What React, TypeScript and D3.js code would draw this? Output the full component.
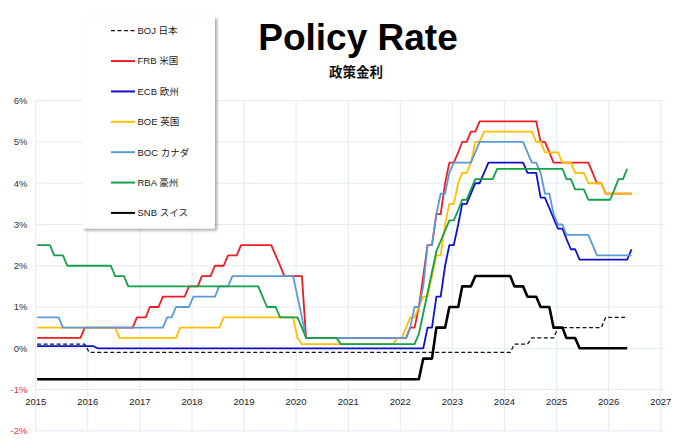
import * as d3 from "d3";

// policy rate step changes: [month, new rate %]
const BOJ: [string, number][] = [
  ["2015-01", 0.1], ["2016-01", -0.1], ["2024-03", 0.1], ["2024-07", 0.25],
  ["2025-01", 0.5], ["2025-12", 0.75],
];
const FRB: [string, number][] = [
  ["2015-01", 0.25], ["2015-12", 0.5], ["2016-12", 0.75], ["2017-03", 1.0],
  ["2017-06", 1.25], ["2017-12", 1.5], ["2018-03", 1.75], ["2018-06", 2.0],
  ["2018-09", 2.25], ["2018-12", 2.5], ["2019-08", 2.25], ["2019-09", 2.0],
  ["2019-10", 1.75], ["2020-03", 0.25], ["2022-03", 0.5], ["2022-05", 1.0],
  ["2022-06", 1.75], ["2022-07", 2.5], ["2022-09", 3.25], ["2022-11", 4.0],
  ["2022-12", 4.5], ["2023-02", 4.75], ["2023-03", 5.0], ["2023-05", 5.25],
  ["2023-07", 5.5], ["2024-09", 5.0], ["2024-11", 4.75], ["2024-12", 4.5],
  ["2025-09", 4.25], ["2025-10", 4.0], ["2025-12", 3.75],
];
const ECB: [string, number][] = [
  ["2015-01", 0.05], ["2016-03", 0.0], ["2022-07", 0.5], ["2022-09", 1.25],
  ["2022-11", 2.0], ["2022-12", 2.5], ["2023-02", 3.0], ["2023-03", 3.5],
  ["2023-05", 3.75], ["2023-06", 4.0], ["2023-08", 4.25], ["2023-09", 4.5],
  ["2024-06", 4.25], ["2024-09", 3.65], ["2024-11", 3.4], ["2024-12", 3.15],
  ["2025-01", 2.9], ["2025-03", 2.65], ["2025-04", 2.4], ["2025-06", 2.15],
  ["2026-06", 2.4],
];
const BOE: [string, number][] = [
  ["2015-01", 0.5], ["2016-08", 0.25], ["2017-10", 0.5], ["2018-08", 0.75],
  ["2020-01", 0.25], ["2020-02", 0.1], ["2021-12", 0.25], ["2022-02", 0.5],
  ["2022-03", 0.75], ["2022-05", 1.0], ["2022-06", 1.25], ["2022-08", 1.75],
  ["2022-09", 2.25], ["2022-11", 3.0], ["2022-12", 3.5], ["2023-02", 4.0],
  ["2023-03", 4.25], ["2023-05", 4.5], ["2023-06", 5.0], ["2023-08", 5.25],
  ["2024-08", 5.0], ["2024-10", 4.75], ["2025-02", 4.5], ["2025-05", 4.25],
  ["2025-08", 4.0], ["2025-12", 3.75],
];
const BOC: [string, number][] = [
  ["2015-01", 0.75], ["2015-07", 0.5], ["2017-07", 0.75], ["2017-09", 1.0],
  ["2018-01", 1.25], ["2018-07", 1.5], ["2018-10", 1.75], ["2020-01", 1.25],
  ["2020-02", 0.75], ["2020-03", 0.25], ["2022-03", 0.5], ["2022-04", 1.0],
  ["2022-06", 1.5], ["2022-07", 2.5], ["2022-09", 3.25], ["2022-10", 3.75],
  ["2022-12", 4.25], ["2023-01", 4.5], ["2023-06", 4.75], ["2023-07", 5.0],
  ["2024-06", 4.75], ["2024-07", 4.5], ["2024-09", 4.25], ["2024-10", 3.75],
  ["2024-12", 3.25], ["2025-01", 3.0], ["2025-03", 2.75], ["2025-09", 2.5],
  ["2025-10", 2.25],
];
const RBA: [string, number][] = [
  ["2015-01", 2.5], ["2015-05", 2.25], ["2015-08", 2.0], ["2016-07", 1.75],
  ["2016-10", 1.5], ["2019-05", 1.25], ["2019-06", 1.0], ["2019-09", 0.75],
  ["2020-02", 0.5], ["2020-03", 0.25], ["2020-11", 0.1], ["2022-05", 0.35],
  ["2022-06", 0.85], ["2022-07", 1.35], ["2022-08", 1.85], ["2022-09", 2.35],
  ["2022-10", 2.6], ["2022-11", 2.85], ["2022-12", 3.1], ["2023-02", 3.35],
  ["2023-03", 3.6], ["2023-05", 3.85], ["2023-06", 4.1], ["2023-11", 4.35],
  ["2025-03", 4.1], ["2025-05", 3.85], ["2025-08", 3.6], ["2026-02", 3.85],
  ["2026-03", 4.1], ["2026-05", 4.35],
];
const SNB: [string, number][] = [
  ["2015-01", -0.75], ["2022-06", -0.25], ["2022-09", 0.5], ["2022-12", 1.0],
  ["2023-03", 1.5], ["2023-06", 1.75], ["2024-03", 1.5], ["2024-06", 1.25],
  ["2024-09", 1.0], ["2024-12", 0.5], ["2025-03", 0.25], ["2025-06", 0.0],
];

const SERIES = [
  { label: "BOJ 日本", steps: BOJ, end: "2026-05", color: "#111", width: 1.3, dash: "4,2.5" },
  { label: "FRB 米国", steps: FRB, end: "2026-06", color: "#ee1c24", width: 1.8 },
  { label: "ECB 欧州", steps: ECB, end: "2026-06", color: "#1010c8", width: 1.8 },
  { label: "BOE 英国", steps: BOE, end: "2026-06", color: "#ffbf00", width: 1.8 },
  { label: "BOC カナダ", steps: BOC, end: "2026-06", color: "#5b9bd5", width: 1.8 },
  { label: "RBA 豪州", steps: RBA, end: "2026-05", color: "#12a04a", width: 1.8 },
  { label: "SNB スイス", steps: SNB, end: "2026-05", color: "#000", width: 2.6 },
];

const YEARS = d3.range(2015, 2028);
const Y_TICKS = [6, 5, 4, 3, 2, 1, 0, -1, -2];

const FONT = "'Liberation Sans', Arial, 'Noto Sans CJK JP', sans-serif";

const monthIndex = (s: string) => {
  const [y, m] = s.split("-").map(Number);
  return (y - 2015) * 12 + m - 1;
};

// vertices of the monthly step line
function vertices(steps: [string, number][], end: string) {
  const pts: [number, number][] = [[monthIndex(steps[0][0]), steps[0][1]]];
  for (let i = 1; i < steps.length; i++) {
    const m = monthIndex(steps[i][0]);
    const last = pts[pts.length - 1];
    if (m - 1 > last[0]) pts.push([m - 1, steps[i - 1][1]]);
    pts.push([m, steps[i][1]]);
  }
  const mEnd = monthIndex(end);
  const last = pts[pts.length - 1];
  if (mEnd > last[0]) pts.push([mEnd, last[1]]);
  return pts;
}

export default function App() {
  const x = d3
    .scaleTime()
    .domain([new Date(2015, 0, 1), new Date(2027, 0, 1)])
    .range([35.7, 660.7]);
  const y = d3.scaleLinear().domain([-2, 6]).range([430.8, 100.7]);

  const line = d3
    .line<[number, number]>()
    .x((d) => x(new Date(2015, d[0], 11)))
    .y((d) => y(d[1]));

  const legendY = (i: number) => 30.7 + i * 30.37;

  return (
    <svg
      width={680}
      height={444}
      style={{ position: "absolute", left: 0, top: 0, background: "#fff" }}
      fontFamily={FONT}
    >
      <defs>
        <filter id="shadow" x="-10%" y="-10%" width="130%" height="130%">
          <feDropShadow dx="2" dy="2" stdDeviation="1.5" floodColor="#000" floodOpacity="0.35" />
        </filter>
      </defs>

      {/* grid */}
      <g stroke="#e2eaf4" strokeWidth={1}>
        {Y_TICKS.map((t) => (
          <line key={t} x1={x.range()[0]} x2={x.range()[1] + 4} y1={y(t)} y2={y(t)} />
        ))}
        {YEARS.map((yr) => (
          <line
            key={yr}
            x1={x(new Date(yr, 0, 1))}
            x2={x(new Date(yr, 0, 1))}
            y1={y(6)}
            y2={y(-2)}
          />
        ))}
      </g>

      {/* y labels */}
      <g fontSize={9.5} textAnchor="end">
        {Y_TICKS.map((t) => (
          <text key={t} x={27.5} y={y(t) + 3.4} fill={t < 0 ? "#e8363a" : "#333"}>
            {t}%
          </text>
        ))}
      </g>

      {/* x labels */}
      <g fontSize={9.5} textAnchor="middle" fill="#222">
        {YEARS.map((yr) => (
          <text key={yr} x={x(new Date(yr, 0, 1))} y={404.5}>
            {yr}
          </text>
        ))}
      </g>

      {/* series */}
      <g fill="none" strokeLinejoin="round">
        {SERIES.map((s) => (
          <path
            key={s.label}
            d={line(vertices(s.steps, s.end)) ?? ""}
            stroke={s.color}
            strokeWidth={s.width}
            strokeDasharray={s.dash}
          />
        ))}
      </g>

      {/* title */}
      <text x={358} y={50} textAnchor="middle" fontSize={37} fontWeight="bold" fill="#000">
        Policy Rate
      </text>
      <text
        x={356}
        y={77}
        textAnchor="middle"
        fontSize={13.5}
        fontWeight="bold"
        fill="#111"
        fontFamily="'Noto Sans CJK JP', sans-serif"
      >
        政策金利
      </text>

      {/* legend */}
      <rect x={82} y={16.5} width={133} height={212} fill="#fff" filter="url(#shadow)" />
      {SERIES.map((s, i) => (
        <g key={s.label}>
          <line
            x1={111}
            x2={135}
            y1={legendY(i)}
            y2={legendY(i)}
            stroke={s.color}
            strokeWidth={s.dash ? 1.3 : 2}
            strokeDasharray={s.dash}
          />
          <text x={137.5} y={legendY(i) + 3.4} fontSize={9.5} fill="#222">
            {s.label}
          </text>
        </g>
      ))}
    </svg>
  );
}
